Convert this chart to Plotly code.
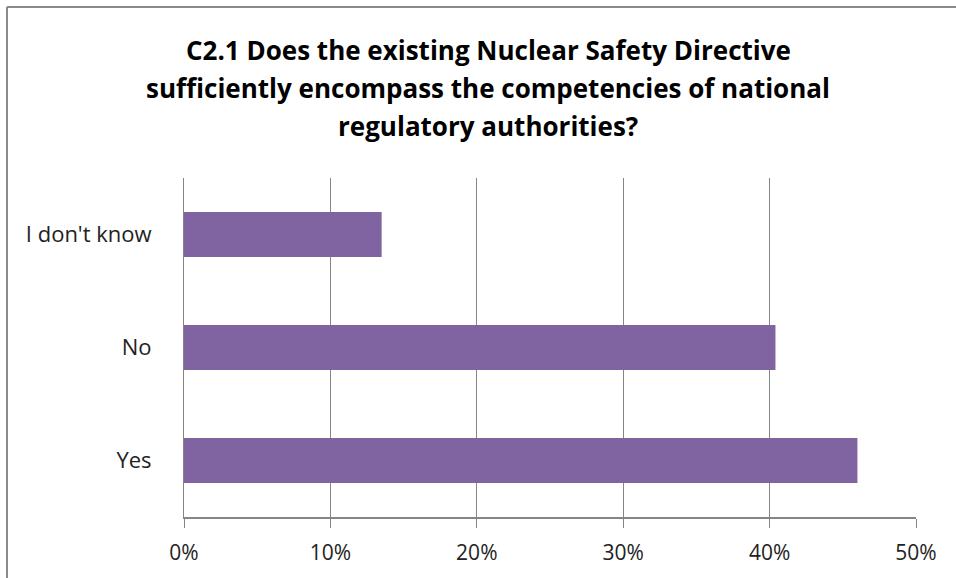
import plotly.graph_objects as go

categories = ['Yes', 'No', "I don't know"]
shares = [0.460, 0.404, 0.135]
x_ticks = [0, 0.1, 0.2, 0.3, 0.4, 0.5]
x_labels = ['0%', '10%', '20%', '30%', '40%', '50%']

title_lines = ['C2.1 Does the existing Nuclear Safety Directive',
               'sufficiently encompass the competencies of national',
               'regulatory authorities?']

# plot area in pixels: x 184..916, y 178..517
def px_to_paper_y(py):
	return 1 + (178 - py) / 339.0

def px_to_paper_x(px):
	return (px - 184) / 732.0

fig = go.Figure()
fig.add_trace(go.Bar(x=shares,
                     y=categories,
                     orientation='h',
                     marker_color='#8064A2',
                     marker_line_width=0))

fig.update_layout(width=956,
                  height=578,
                  font=dict(family='Open Sans', size=22, color='#222222'),
                  paper_bgcolor='white',
                  plot_bgcolor='white',
                  bargap=0.6,
                  showlegend=False,
                  margin=dict(t=178, b=61, l=184, r=40))

fig.update_xaxes(range=[0, 0.5],
                 tickvals=x_ticks,
                 ticktext=x_labels,
                 showgrid=True,
                 gridcolor='#868686',
                 gridwidth=1,
                 showline=True,
                 linecolor='#868686',
                 linewidth=2,
                 ticks='outside',
                 ticklen=9,
                 tickcolor='#868686',
                 ticklabelstandoff=7,
                 zeroline=False,
                 tickfont=dict(size=21, color='#222222'))
fig.update_yaxes(showline=True,
                 linecolor='#868686',
                 linewidth=1,
                 ticks='',
                 ticklabelstandoff=27,
                 tickfont=dict(size=22, color='#222222'))

# title, one annotation per line to get the wide line spacing
for i, line in enumerate(title_lines):
	fig.add_annotation(text='<b>' + line + '</b>',
	                   xref='paper', yref='paper',
	                   x=px_to_paper_x(488), y=px_to_paper_y(50 + 38 * i),
	                   xanchor='center', yanchor='middle',
	                   showarrow=False,
	                   font=dict(family='Open Sans', size=26, color='black'))

# outer chart frame (cut off at the right and bottom)
fig.add_shape(type='line', xref='paper', yref='paper',
              x0=px_to_paper_x(7), x1=px_to_paper_x(7), y0=-0.3, y1=px_to_paper_y(7),
              line=dict(color='#8a8a8a', width=2))
fig.add_shape(type='line', xref='paper', yref='paper',
              x0=px_to_paper_x(7), x1=1.2, y0=px_to_paper_y(7), y1=px_to_paper_y(7),
              line=dict(color='#8a8a8a', width=2))

fig.write_html("out.html", config={'displayModeBar': False},
               post_script="document.body.style.margin='0px';")
